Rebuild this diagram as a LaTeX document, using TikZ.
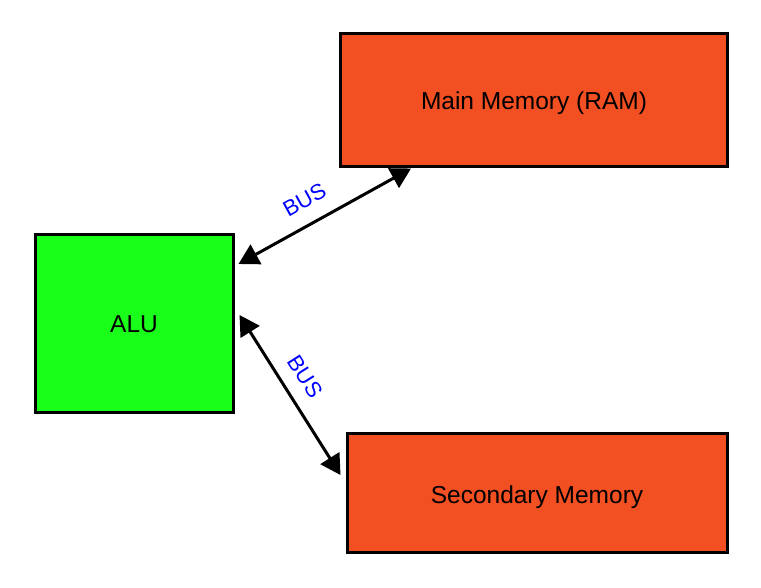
\documentclass[tikz,border=0pt]{standalone}
\usepackage{fontspec}
\setmainfont{Liberation Sans}
\usetikzlibrary{arrows.meta,calc}
\definecolor{memorange}{HTML}{F24F22}
\definecolor{alugreen}{HTML}{1AFF1A}
\begin{document}
\begin{tikzpicture}[x=1pt,y=-1pt,
  box/.style={draw=black, line width=3pt, inner sep=0pt, text=black,
    font=\fontsize{24.5}{29}\selectfont, text depth=0pt},
  bus/.style={draw=black, line width=3pt,
    {Triangle[length=20pt,width=22pt]}-{Triangle[length=20pt,width=22pt]}},
  buslabel/.style={text=blue, font=\fontsize{22}{26}\selectfont, sloped,
    inner sep=0pt, text height=15.7pt, text depth=0pt}]
\useasboundingbox (0,0) rectangle (761,587);
\node[box, fill=alugreen, minimum width=198pt, minimum height=178pt, text height=19.5pt] (alu) at (134,323) {ALU};
\node[box, fill=memorange, minimum width=387pt, minimum height=133pt, text height=20.5pt] (main) at (534,99.5) {Main Memory (RAM)};
\node[box, fill=memorange, minimum width=380pt, minimum height=119pt, text height=22.5pt] (sec) at (537,492.5) {Secondary Memory};
\draw[bus] ($(alu.east)+(4,-59)$) -- node[buslabel, pos=0.45, above=15pt] {BUS} ($(main.south)+(-123,1)$);
\draw[bus] ($(alu.east)+(5,-8)$) -- node[buslabel, pos=0.46, above=14pt] {BUS} ($(sec.west)+(-5,-17.5)$);
\end{tikzpicture}
\end{document}
